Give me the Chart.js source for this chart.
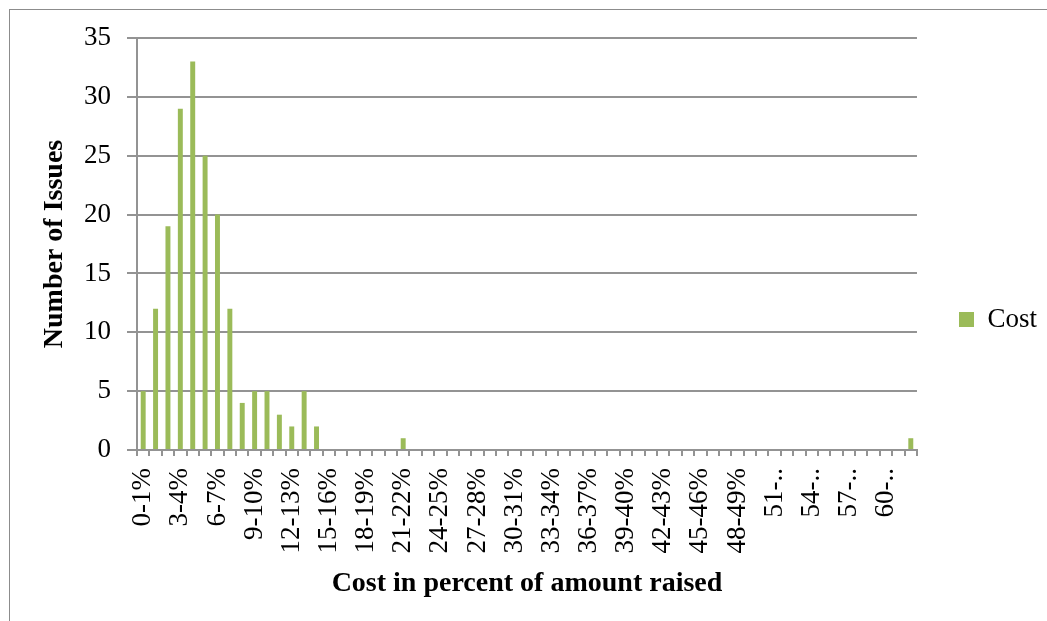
<!DOCTYPE html>
<html>
<head>
<meta charset="utf-8">
<title>Cost</title>
<script src="https://cdn.jsdelivr.net/npm/chart.js@4/dist/chart.umd.min.js"></script>
<style>
  body { margin: 0; background: #fff; }
  #wrap { position: relative; width: 1047px; height: 621px; overflow: hidden; }
  #frame { position: absolute; left: 9px; top: 9px; width: 1200px; height: 800px;
           border-left: 1px solid #8c8c8c; border-top: 1px solid #8c8c8c; pointer-events: none; }
  canvas { position: absolute; left: 0; top: 0; }
</style>
</head>
<body>
<div id="wrap">
  <canvas id="chart" width="1047" height="621"></canvas>
  <div id="frame"></div>
</div>
<script>
//------------------------Data----------------------------------//
// cost buckets 0-1% ... 62-63%
const buckets = [];
for (let i = 0; i < 63; i++) buckets.push(i + '-' + (i + 1) + '%');

const issues = [
  5, 12, 19, 29, 33, 25, 20, 12, 4, 5, 5, 3, 2, 5, 2,
  0, 0, 0, 0, 0, 0, 1, 0, 0, 0, 0, 0, 0, 0, 0,
  0, 0, 0, 0, 0, 0, 0, 0, 0, 0, 0, 0, 0, 0, 0,
  0, 0, 0, 0, 0, 0, 0, 0, 0, 0, 0, 0, 0, 0, 0,
  0, 0, 1
];

const yTicks = [0, 5, 10, 15, 20, 25, 30, 35];

//------------------------Chart----------------------------------//
const serif = 'Liberation Serif';
const gray = '#939393';
let ctx = document.getElementById('chart').getContext('2d');

let costChart = new Chart(ctx, {
    type: 'bar',
    data: {
        labels: buckets,
        datasets: [{
            label: 'Cost',
            data: issues,
            backgroundColor: '#9bbb59',
            borderWidth: 0,
            categoryPercentage: 1,
            barPercentage: 0.4
        }]
    },
    options: {
        responsive: false,
        animation: false,
        layout: { padding: { left: 0, top: 38, right: 0, bottom: 20 } },
        scales: {
            x: {
                grid: { drawOnChartArea: false, tickLength: 6, color: gray, lineWidth: 2, offset: true },
                border: { color: gray, width: 2 },
                ticks: {
                    autoSkip: false,
                    minRotation: 90,
                    maxRotation: 90,
                    padding: 12,
                    color: '#000',
                    font: { family: serif, size: 27 },
                    callback: function (val, i) {
                        if (i % 3 !== 0) return '';
                        const s = this.getLabelForValue(val);
                        // long labels get cut short past 50%
                        return i > 50 ? s.slice(0, 3) + '..' : s;
                    }
                },
                title: {
                    display: true,
                    text: 'Cost in percent of amount raised',
                    color: '#000',
                    font: { family: serif, size: 28, weight: 'bold' },
                    padding: { top: 0, bottom: 0 }
                },
                afterFit: function (scale) { scale.height = 151; }
            },
            y: {
                min: yTicks[0],
                max: yTicks[yTicks.length - 1],
                afterBuildTicks: function (scale) {
                    scale.ticks = yTicks.map(v => ({ value: v }));
                },
                grid: { color: gray, lineWidth: 2, tickLength: 10 },
                border: { color: gray, width: 2 },
                ticks: {
                    padding: 16,
                    color: '#000',
                    font: { family: serif, size: 27 }
                },
                title: {
                    display: true,
                    text: 'Number of Issues',
                    color: '#000',
                    font: { family: serif, size: 28, weight: 'bold' },
                    padding: { top: 38, bottom: 0 }
                },
                afterFit: function (scale) { scale.width = 137; }
            }
        },
        plugins: {
            legend: {
                position: 'right',
                labels: {
                    boxWidth: 15,
                    boxHeight: 15,
                    padding: 42,
                    color: '#000',
                    font: { family: serif, size: 27 }
                }
            },
            tooltip: { enabled: false }
        }
    }
});
</script>
</body>
</html>
